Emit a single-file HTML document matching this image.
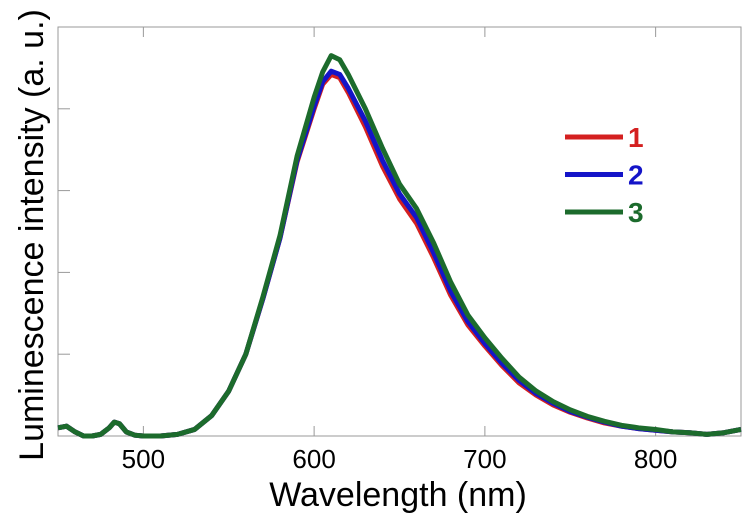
<!DOCTYPE html>
<html><head><meta charset="utf-8"><style>
body{margin:0;background:#fff;}
svg text{font-family:"Liberation Sans",sans-serif;}
</style></head><body>
<svg id="chart" width="750" height="514" xmlns="http://www.w3.org/2000/svg">
<rect x="58" y="27" width="683" height="409" fill="none" stroke="#999" stroke-width="1"/>
<g id="ticks"></g>
<g id="series"></g>
<text x="398" y="506" font-size="34" text-anchor="middle" fill="#000">Wavelength (nm)</text>
<text transform="translate(43,235) rotate(-90)" font-size="34" text-anchor="middle" fill="#000">Luminescence intensity (a. u.)</text>
<g id="legend"></g>
</svg>
<script>
const wavelengths=[450,455,460,465,470,475,480,483,486,490,495,500,510,520,530,540,550,560,570,580,590,600,605,610,615,620,630,640,650,660,670,680,690,700,710,720,730,740,750,760,770,780,790,800,810,820,830,840,850];
const series1=[0.1,0.12,0.05,0.0,0.0,0.02,0.1,0.17,0.15,0.05,0.01,0.0,0.0,0.02,0.08,0.25,0.55,1.0,1.68,2.42,3.35,4.0,4.3,4.42,4.38,4.2,3.78,3.3,2.9,2.6,2.18,1.72,1.36,1.1,0.86,0.65,0.5,0.38,0.29,0.22,0.16,0.12,0.09,0.07,0.05,0.04,0.02,0.04,0.08];
const series2=[0.1,0.12,0.05,0.0,0.0,0.02,0.1,0.17,0.15,0.05,0.01,0.0,0.0,0.02,0.08,0.25,0.55,1.0,1.68,2.42,3.37,4.03,4.33,4.46,4.42,4.25,3.85,3.37,2.96,2.67,2.24,1.77,1.4,1.13,0.89,0.68,0.52,0.4,0.3,0.23,0.17,0.12,0.09,0.07,0.05,0.04,0.02,0.04,0.08];
const series3=[0.1,0.12,0.05,0.0,0.0,0.02,0.1,0.17,0.15,0.05,0.01,0.0,0.0,0.02,0.08,0.25,0.55,1.0,1.7,2.45,3.42,4.14,4.45,4.65,4.6,4.42,4.0,3.52,3.08,2.78,2.36,1.88,1.48,1.2,0.95,0.72,0.55,0.42,0.32,0.24,0.18,0.13,0.1,0.08,0.05,0.04,0.02,0.04,0.08];
const xTicks=[500,600,700,800];
const yTicks=[1,2,3,4];
const labels=["1","2","3"];
const colors=["#d42020","#1414c8","#1c6b2c"];
const NS="http://www.w3.org/2000/svg";
const X=v=>58+(v-450)/400*683;
const Y=v=>436-v*81.8;
const tg=document.getElementById('ticks');
xTicks.forEach(t=>{
 const l=document.createElementNS(NS,'line');
 
 
 l.setAttribute('x1',X(t));l.setAttribute('x2',X(t));l.setAttribute('y1',436);l.setAttribute('y2',426);
 l.setAttribute('stroke','#999');tg.appendChild(l);
 const l2=document.createElementNS(NS,'line');
 
 
 l2.setAttribute('x1',X(t));l2.setAttribute('x2',X(t));l2.setAttribute('y1',27);l2.setAttribute('y2',37);
 l2.setAttribute('stroke','#999');tg.appendChild(l2);
 const tx=document.createElementNS(NS,'text');
 
 
 tx.setAttribute('x',X(t));tx.setAttribute('y',468);tx.setAttribute('font-size','26');tx.setAttribute('text-anchor','middle');
 tx.textContent=t;tg.appendChild(tx);
});
yTicks.forEach(t=>{
 const l=document.createElementNS(NS,'line');
 
 
 l.setAttribute('x1',58);l.setAttribute('x2',70);l.setAttribute('y1',Y(t));l.setAttribute('y2',Y(t));
 l.setAttribute('stroke','#999');tg.appendChild(l);
});
const sg=document.getElementById('series');
[series1,series2,series3].forEach((s,i)=>{
 const p=document.createElementNS(NS,'polyline');
 
 
 p.setAttribute('points',s.map((v,j)=>X(wavelengths[j])+','+Y(v)).join(' '));
 p.setAttribute('fill','none');p.setAttribute('stroke',colors[i]);p.setAttribute('stroke-width','5');p.setAttribute('stroke-linejoin','round');
 sg.appendChild(p);
});
const lg=document.getElementById('legend');
labels.forEach((lab,i)=>{
 const y=137+i*37.5;
 const l=document.createElementNS(NS,'line');
 
 
 l.setAttribute('x1',565);l.setAttribute('x2',623);l.setAttribute('y1',y);l.setAttribute('y2',y);
 l.setAttribute('stroke',colors[i]);l.setAttribute('stroke-width','5');lg.appendChild(l);
 const t=document.createElementNS(NS,'text');
 
 
 t.setAttribute('x',628);t.setAttribute('y',y+10);t.setAttribute('font-size','28');t.setAttribute('font-weight','bold');t.setAttribute('fill',colors[i]);
 t.textContent=lab;lg.appendChild(t);
});
</script>
</body></html>
